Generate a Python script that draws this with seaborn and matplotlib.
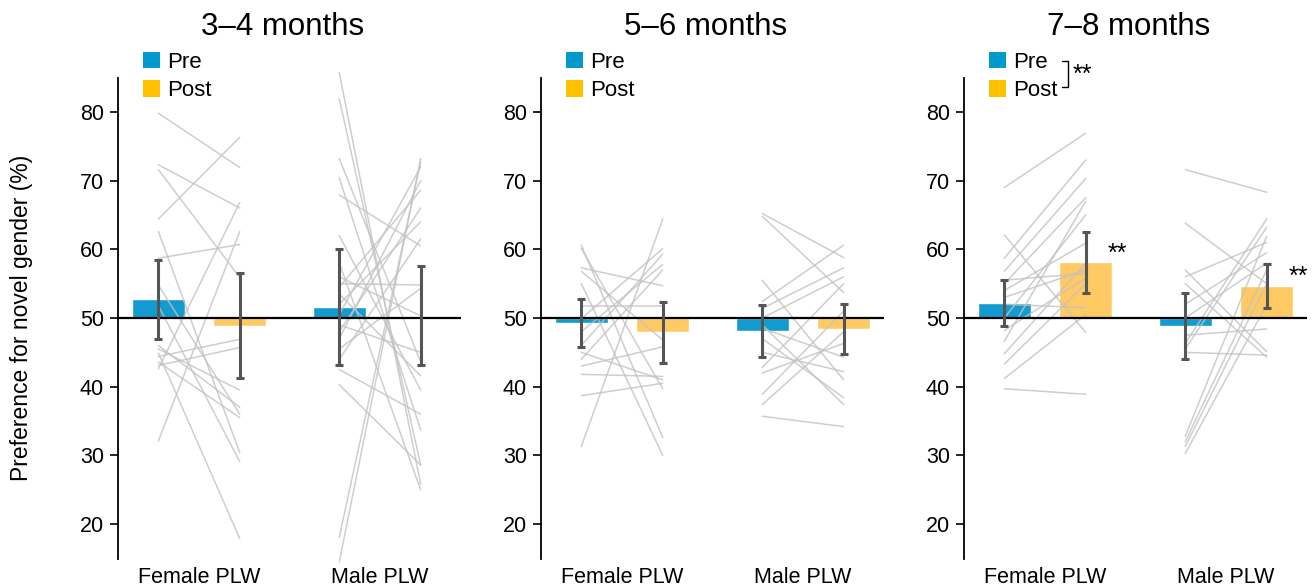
import numpy as np
import pandas as pd
import matplotlib
matplotlib.use("Agg")
import matplotlib.pyplot as plt
from matplotlib.patches import Patch
import seaborn as sns

# ---------------- data ----------------
panels = ["3–4 months", "5–6 months", "7–8 months"]
groups = ["Female PLW", "Male PLW"]
times = ["Pre", "Post"]

# bar means (%), order: [Female Pre, Female Post, Male Pre, Male Post]
means_34 = [52.7, 48.9, 51.6, 50.3]
means_56 = [49.3, 47.9, 48.1, 48.4]
means_78 = [52.2, 58.1, 48.8, 54.7]
# error half-widths
err_34 = [5.7, 7.6, 8.5, 7.2]
err_56 = [3.5, 4.5, 3.8, 3.6]
err_78 = [3.4, 4.4, 4.8, 3.2]

# individual infants (pre, post)
f34_pre = [79.8, 72.3, 71.6, 64.4, 62.6, 58.7, 54.8, 51.8, 44.9, 44.4, 43.6, 43.1, 42.6, 32.1, 45.5, 46.0]
f34_post = [71.9, 66.0, 55.9, 76.3, 30.4, 60.7, 36.0, 29.1, 17.9, 46.9, 35.5, 45.7, 66.8, 62.6, 39.5, 37.0]
m34_pre = [85.7, 81.9, 73.2, 70.4, 67.9, 62.0, 58.0, 55.0, 54.5, 53.5, 52.0, 50.5, 48.0, 47.0, 45.5, 44.0, 42.5, 40.3, 18.1, 14.5, 56.0, 49.0]
m34_post = [25.8, 28.6, 43.6, 33.7, 60.5, 39.5, 25.0, 54.8, 68.6, 41.6, 64.0, 72.0, 66.0, 70.0, 54.3, 61.5, 36.0, 28.6, 72.7, 73.2, 50.3, 45.0]
f56_pre = [60.6, 60.1, 57.3, 55.0, 56.8, 51.7, 31.3, 49.9, 48.0, 46.0, 44.0, 43.0, 41.8, 38.7, 45.0]
f56_post = [32.6, 39.7, 54.7, 30.0, 46.8, 51.7, 64.4, 60.1, 57.8, 59.3, 57.0, 45.8, 41.5, 40.5, 41.0]
m56_pre = [65.2, 64.8, 55.5, 52.4, 51.4, 50.0, 48.5, 47.0, 45.0, 42.8, 42.0, 38.9, 37.4, 35.7, 49.0]
m56_post = [58.8, 53.7, 41.0, 60.6, 57.3, 56.0, 44.3, 38.4, 42.2, 55.0, 46.3, 51.0, 48.0, 34.2, 37.4]
f78_pre = [69.0, 62.1, 58.7, 56.8, 55.5, 55.0, 54.0, 53.0, 52.0, 50.0, 48.2, 46.6, 44.8, 43.3, 41.2, 39.7]
f78_post = [76.9, 47.9, 73.0, 70.3, 56.5, 67.5, 60.9, 57.0, 51.5, 65.0, 55.8, 67.0, 58.0, 55.0, 50.5, 38.9]
m78_pre = [71.6, 63.8, 57.0, 56.0, 55.0, 52.0, 50.0, 47.5, 46.3, 45.5, 45.0, 32.8, 32.0, 31.3, 30.3]
m78_post = [68.3, 55.0, 45.1, 61.0, 44.3, 59.5, 58.0, 48.4, 64.4, 63.2, 44.6, 61.9, 57.0, 55.0, 51.9]

y_ticks = [20, 30, 40, 50, 60, 70, 80]
chance = 50

panel_means = [means_34, means_56, means_78]
panel_errs = [err_34, err_56, err_78]
panel_lines = [
    [(f34_pre, f34_post), (m34_pre, m34_post)],
    [(f56_pre, f56_post), (m56_pre, m56_post)],
    [(f78_pre, f78_post), (m78_pre, m78_post)],
]
sig_bars = [[], [], [(0, "Post"), (1, "Post")]]  # (group index, time)

# ---------------- style ----------------
sns.set_theme(style="white")
plt.rcParams["font.family"] = ["Liberation Sans", "DejaVu Sans"]
plt.rcParams["text.color"] = "black"
plt.rcParams["axes.labelcolor"] = "black"
plt.rcParams["xtick.color"] = "black"
plt.rcParams["ytick.color"] = "black"

bar_pal = {"Pre": "#139BD0", "Post": "#FFCA64"}
leg_pal = {"Pre": "#0099CC", "Post": "#FFC000"}

W, H = 1312, 588
fig = plt.figure(figsize=(W / 100, H / 100), dpi=100)
lefts = [118 / W, 541 / W, 964 / W]
ax_w = 343 / W
ax_top_px, ax_bot_px = 77.5, 558.5
ax_b = 1 - ax_bot_px / H
ax_h = (ax_bot_px - ax_top_px) / H

for p in range(3):
    ax = fig.add_axes([lefts[p], ax_b, ax_w, ax_h])
    m = panel_means[p]
    e = panel_errs[p]
    df = pd.DataFrame({
        "group": [groups[0], groups[0], groups[1], groups[1]],
        "time": times * 2,
        "dev": np.array(m) - chance,
    })
    sns.barplot(data=df, x="group", y="dev", hue="time", hue_order=times,
                order=groups, palette=bar_pal, errorbar=None, width=0.9,
                gap=0.35, saturation=1, legend=False, ax=ax, zorder=1)

    # bar centres from seaborn's containers
    centres = {}
    for ti, t in enumerate(times):
        cont = ax.containers[ti]
        for gi, rect in enumerate(cont):
            centres[(gi, t)] = (rect.get_x() + rect.get_width() / 2,
                                rect.get_x() + rect.get_width())

    # individual lines
    for gi, (pre, post) in enumerate(panel_lines[p]):
        x0 = centres[(gi, "Pre")][0]
        x1 = centres[(gi, "Post")][0]
        for a, b in zip(pre, post):
            ax.plot([x0, x1], [a - chance, b - chance], color="#c2c2c2",
                    lw=1.1, alpha=0.8, zorder=2, clip_on=False)

    ax.axhline(0, color="black", lw=1.6, zorder=3)

    # error bars
    for gi in range(2):
        for ti, t in enumerate(times):
            idx = gi * 2 + ti
            ax.errorbar(centres[(gi, t)][0], m[idx] - chance, yerr=e[idx],
                        fmt="none", ecolor="#555555", elinewidth=2.2,
                        capsize=3, capthick=2.2, zorder=4)

    for gi, t in sig_bars[p]:
        idx = gi * 2 + times.index(t)
        ax.text(centres[(gi, t)][1] - 0.025, m[idx] - chance + 1.3, "**",
                fontsize=18, ha="left", va="center", color="black")

    ax.set_xlim(-0.448, 1.448)
    ax.set_ylim(15 - chance, 85 - chance)
    ax.set_yticks(np.array(y_ticks) - chance)
    ax.set_yticklabels([str(v) for v in y_ticks], fontsize=15.5)
    ax.tick_params(axis="y", direction="out", length=6, width=1.2,
                   color="black", pad=4, left=True)
    ax.tick_params(axis="x", length=0, labelsize=15.5, pad=6)
    ax.set_xlabel("")
    ax.set_ylabel("")
    for s in ["top", "right", "bottom"]:
        ax.spines[s].set_visible(False)
    ax.spines["left"].set_color("black")
    ax.spines["left"].set_linewidth(1.3)

    ax.text(0.481, 1.104, panels[p], transform=ax.transAxes, ha="center",
            va="center", fontsize=22.5)

    handles = [Patch(facecolor=leg_pal[t], edgecolor="none", label=t) for t in times]
    ax.legend(handles=handles, loc="upper left", bbox_to_anchor=(0.073, 1.054),
              frameon=False, fontsize=16, handlelength=0.78, handleheight=0.78,
              handletextpad=0.3, labelspacing=0.34, borderpad=0, borderaxespad=0)

    if p == 2:
        ax.plot([0.286, 0.303, 0.303, 0.286], [1.034, 1.034, 0.980, 0.980],
                transform=ax.transAxes, color="black", lw=1.0, clip_on=False)
        ax.text(0.316, 1.006, "**", transform=ax.transAxes, fontsize=18,
                ha="left", va="center")

fig.text(22 / W, 1 - 318 / H, "Preference for novel gender (%)", rotation=90,
         ha="center", va="center", fontsize=16.5)

fig.savefig("out.png", dpi=100)
